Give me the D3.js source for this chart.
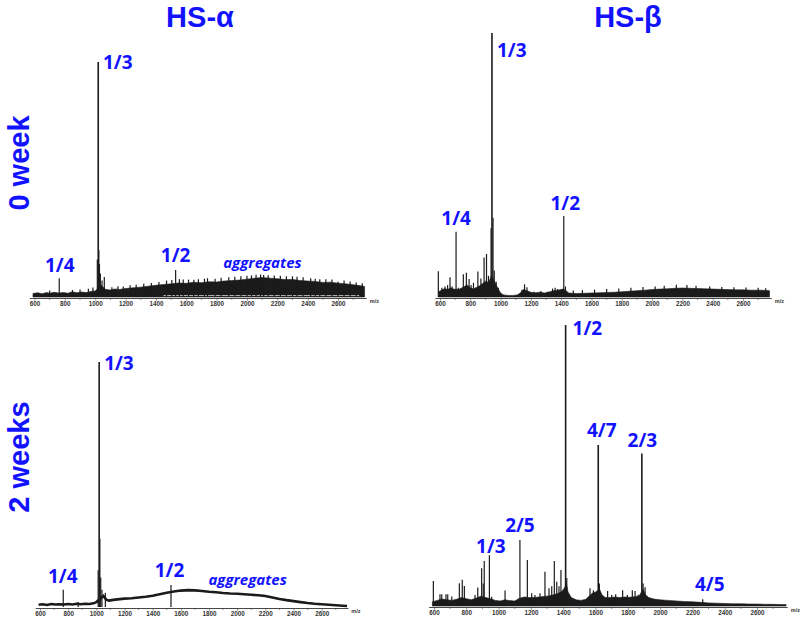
<!DOCTYPE html>
<html><head><meta charset="utf-8">
<script src="https://cdn.jsdelivr.net/npm/d3@7"></script>
<style>body{margin:0;background:#fff} svg{display:block}</style>
</head><body>
<svg id="c" width="800" height="619"></svg>
<script>
// ---------- DATA ----------
const columnTitles = ["HS-α", "HS-β"];
const rowTitles = ["0 week", "2 weeks"];
const tickValues = [600, 800, 1000, 1200, 1400, 1600, 1800, 2000, 2200, 2400, 2600];
const minorTicks = [700, 900, 1100, 1300, 1500, 1700, 1900, 2100, 2300, 2500, 2700];
const unitLabel = "m/z";

// HS-α, 0 week : [m/z, relative intensity %]
const alpha0Envelope = [[590,1.5],[620,1.8],[650,1.4],[680,1.9],[700,1.6],[730,2.0],[760,1.7],[790,1.9],[820,1.6],[850,2.2],[880,1.8],[910,2.1],[940,1.9],[970,2.3],[1000,2.6],[1040,5.0],[1070,3.2],[1100,3.0],[1130,3.4],[1160,3.2],[1200,3.6],[1250,3.9],[1300,4.2],[1350,4.6],[1400,5.0],[1450,5.3],[1500,5.6],[1550,6.0],[1600,5.8],[1650,6.3],[1700,6.1],[1750,6.5],[1800,6.4],[1850,6.8],[1900,7.0],[1950,7.2],[2000,7.6],[2050,8.0],[2100,8.3],[2150,8.0],[2200,7.8],[2250,7.4],[2300,7.5],[2350,7.0],[2400,6.8],[2450,6.6],[2500,6.2],[2550,6.3],[2600,5.9],[2650,5.6],[2700,5.2],[2750,4.8],[2775,4.5]];
const alpha0Peaks = [[700,2.8],[763,8],[850,3],[900,3.2],[955,3.5],[985,4],[1014,16],[1020,100],[1024,20],[1028,14],[1034,10],[1045,7],[1060,8.5],
  [1110,4.2],[1150,4.6],[1185,4.5],[1230,5.0],[1270,5.2],[1320,5.6],[1370,6.0],[1420,6.4],[1470,7.0],[1505,7.2],[1530,11.5],[1555,7.6],[1580,7.5],[1615,7.4],[1650,7.3],[1680,7.6],[1720,7.8],[1740,8.0],[1790,7.8],[1830,8.2],[1880,8.4],[1920,8.6],[1960,8.8],[2000,9.0],[2030,9.2],[2060,9.5],[2090,9.6],[2110,9.4],[2140,9.3],[2180,9.2],[2220,9.0],[2260,8.8],[2300,8.8],[2330,8.6],[2370,8.4],[2420,8.0],[2450,7.8],[2480,7.6],[2520,7.6],[2560,7.4],[2600,6.5],[2640,7.0],[2680,6.6],[2720,6.2],[2760,5.8]];
const alpha0Gap = [[1450,0.6],[2740,0.6]];

// HS-β, 0 week
const beta0Envelope = [[590,2.0],[610,2.6],[630,3.2],[650,2.8],[670,3.5],[690,3.0],[720,2.8],[740,3.3],[760,4.0],[780,4.5],[800,3.5],[820,3.0],[840,3.6],[860,4.2],[880,5.0],[900,6.0],[920,5.5],[940,8.0],[960,6.0],[980,3.5],[1000,1.5],[1020,0.8],[1050,0.6],[1080,0.6],[1110,0.8],[1130,1.5],[1150,2.8],[1170,2.5],[1200,1.8],[1230,1.6],[1260,1.8],[1290,1.5],[1320,1.9],[1350,2.4],[1380,2.6],[1410,3.0],[1430,2.5],[1450,1.5],[1500,1.3],[1550,1.4],[1600,1.5],[1650,1.6],[1700,1.7],[1750,1.8],[1800,2.0],[1850,2.2],[1900,2.4],[1950,2.6],[2000,2.8],[2050,3.0],[2100,3.1],[2150,3.3],[2200,3.4],[2250,3.3],[2300,3.2],[2350,3.1],[2400,3.0],[2450,2.9],[2500,2.8],[2550,2.7],[2600,2.7],[2650,2.6],[2700,2.6],[2750,2.5],[2775,2.4]];
const beta0Peaks = [[589,9.8],[612,3.5],[633,4],[650,4.5],[666,7.5],[680,4],[706,24.7],[720,3.5],[754,8.6],[774,9.2],[792,6.8],[805,4.5],[821,5.4],[835,3.5],[850,9.7],[870,7],[880,5],[891,15],[907,16.3],[920,8],[937,26],[943,100],[950,30],[958,10],[971,5.8],[985,3.5],[1141,2.7],[1158,4.8],[1174,3.7],[1222,2],[1266,2.3],[1310,2],[1343,3.2],[1360,3.5],[1377,3],[1417,30.7],[1428,4],
  [1480,2.5],[1540,2.6],[1620,2.8],[1700,3.0],[1780,3.2],[1860,3.5],[1940,3.8],[2020,4.0],[2080,4.3],[2160,4.6],[2230,4.5],[2290,4.3],[2380,4.0],[2460,3.8],[2540,3.7],[2620,3.6],[2700,3.5],[2750,3.3]];

// HS-α, 2 weeks
const alpha2Envelope = [[590,0.9],[620,1.1],[650,0.8],[680,1.2],[710,1.0],[740,1.1],[770,1.0],[800,1.2],[830,1.0],[860,1.3],[890,1.1],[920,1.3],[950,1.2],[980,1.5],[1000,2.0],[1050,4.5],[1070,3.0],[1090,2.6],[1120,2.9],[1150,3.1],[1200,3.4],[1250,3.6],[1300,3.9],[1350,4.2],[1400,4.6],[1450,5.2],[1500,5.8],[1550,6.3],[1600,6.7],[1650,6.9],[1700,6.8],[1750,6.5],[1800,6.2],[1850,6.0],[1900,5.7],[1950,5.5],[2000,5.4],[2050,5.2],[2100,5.0],[2150,4.8],[2200,4.5],[2250,3.9],[2300,3.3],[2350,2.8],[2400,2.4],[2450,2.0],[2500,1.6],[2550,1.3],[2600,1.1],[2650,0.9],[2700,0.7],[2750,0.5],[2780,0.4]];
const alpha2Peaks = [[765,7],[871,2],[1013,15],[1020,100],[1025,28],[1031,12],[1040,7],[1064,5.8],[1530,9]];

// HS-β, 2 weeks
const beta2Envelope = [[590,1.5],[620,2.0],[650,2.5],[680,2.2],[710,2.0],[740,2.4],[770,3.0],[800,2.6],[830,2.2],[860,2.8],[890,3.5],[920,3.0],[950,2.6],[980,2.0],[1010,1.8],[1040,2.2],[1070,1.9],[1100,1.8],[1130,2.8],[1160,3.2],[1190,3.0],[1220,3.0],[1250,3.2],[1280,3.4],[1310,3.6],[1340,4.0],[1370,4.5],[1400,5.5],[1420,8.0],[1430,5.0],[1450,3.0],[1480,2.2],[1510,2.0],[1540,2.4],[1560,3.5],[1580,4.5],[1600,5.0],[1625,6.0],[1640,4.0],[1660,3.0],[1690,3.0],[1720,3.2],[1750,3.0],[1780,3.2],[1810,3.1],[1840,3.3],[1870,3.6],[1895,6.0],[1910,4.0],[1930,3.0],[1960,2.5],[2000,2.2],[2050,2.0],[2100,1.8],[2150,1.6],[2200,1.5],[2250,1.3],[2300,1.1],[2350,1.0],[2400,0.9],[2450,0.8],[2500,0.8],[2550,0.7],[2600,0.7],[2650,0.6],[2700,0.6],[2750,0.5],[2780,0.5]];
const beta2Peaks = [[596,8.9],[637,4.2],[648,4.2],[674,4.2],[685,4.2],[710,3.4],[757,8.1],[775,9.3],[788,7.1],[854,3.9],[871,6.6],[895,13.4],[905,8],[911,16],[943,18.1],[957,3.3],[1040,5.5],[1077,2],[1132,23.5],[1178,16.4],[1205,4.5],[1225,3.9],[1256,4.5],[1287,12.2],[1312,6.3],[1329,7],[1345,16],[1360,8.6],[1374,7],[1386,12.8],[1400,6],[1415,100],[1422,10],[1566,6.3],[1587,5.6],[1600,4.5],[1617,57.3],[1624,8],[1675,5.3],[1700,3.9],[1725,4.2],[1768,5.6],[1797,3.9],[1828,5.6],[1845,5.3],[1865,4],[1887,54.3],[1895,8],[1907,6.7],[2264,2.4]];

// peak annotations: [text, m/z, intensity]
const alpha0Labels = [["1/3",1020,100],["1/4",763,8],["1/2",1530,11.5],["aggregates",2102,12.3]];
const beta0Labels = [["1/3",943,100],["1/4",706,24.7],["1/2",1417,30.7]];
const alpha2Labels = [["1/3",1020,100],["1/4",765,7],["1/2",1530,9],["aggregates",2074,9.0]];
const beta2Labels = [["1/2",1415,100],["4/7",1617,57.3],["2/3",1887,54.3],["2/5",1132,23.5],["1/3",943,18.1],["4/5",2264,2.4]];

// ---------- LAYOUT ----------
const svg = d3.select("#c");
const BLUE = "#1212ff";
const INK = "#1b1b1b";

// label offsets (px): [anchor, dx, dy]
const labelLayout = {
  alpha0: [["start",4.7,7],["middle",0.5,-6],["middle",0,-8],["middle",0,0]],
  beta0: [["start",5,23.5],["middle",0,-6.5],["middle",1.5,-5.5]],
  alpha2: [["start",5,8],["middle",-0.5,-7],["middle",-1.5,-8],["middle",0,0]],
  beta2: [["start",7,10],["middle",3.5,-8],["middle",0.5,-6],["middle",0,-8],["middle",1.5,-2],["middle",7,-8]]
};

const panels = [
  {id:"alpha0", env:alpha0Envelope, peaks:alpha0Peaks, labels:alpha0Labels, mode:"area", gap:alpha0Gap,
   xr:[34.5,338], yr:[297,62], axisY:298.5},
  {id:"beta0", env:beta0Envelope, peaks:beta0Peaks, labels:beta0Labels, mode:"area",
   xr:[440,743], yr:[297,33], axisY:298.5},
  {id:"alpha2", env:alpha2Envelope, peaks:alpha2Peaks, labels:alpha2Labels, mode:"line",
   xr:[40,321.7], yr:[607,362], axisY:608.5},
  {id:"beta2", env:beta2Envelope, peaks:beta2Peaks, labels:beta2Labels, mode:"area",
   xr:[434,757], yr:[606,325], axisY:607.5}
];

panels.forEach(p => {
  const x = d3.scaleLinear().domain([600, 2600]).range(p.xr);
  const y = d3.scaleLinear().domain([0, 100]).range(p.yr);
  const g = svg.append("g");

  g.append("line").attr("x1", x(570)).attr("x2", x(2790))
    .attr("y1", p.axisY).attr("y2", p.axisY)
    .attr("stroke", "#333").attr("stroke-width", 0.9);

  g.selectAll("line.minor").data(minorTicks).join("line").attr("class","minor")
    .attr("x1", d => x(d)).attr("x2", d => x(d))
    .attr("y1", p.axisY).attr("y2", p.axisY + 1.5)
    .attr("stroke", "#444").attr("stroke-width", 0.6);

  const ax = d3.axisBottom(x).tickValues(tickValues).tickSize(2.2).tickPadding(1).tickFormat(d3.format("d"));
  const axg = g.append("g").attr("transform", `translate(0,${p.axisY})`).call(ax);
  axg.select(".domain").remove();
  axg.selectAll(".tick line").attr("stroke", "#444").attr("stroke-width", 0.6);
  axg.selectAll(".tick text").attr("font-family", "Liberation Sans, Arial, sans-serif")
    .attr("font-weight", "bold").attr("font-size", 6.3).attr("fill", "#333");

  g.append("text").attr("x", x(2800) + 1.5).attr("y", p.axisY + 4)
    .attr("font-family", "Liberation Sans, Arial, sans-serif").attr("font-weight", "bold")
    .attr("font-size", 5.5).attr("fill", "#333").text(unitLabel);

  if (p.mode === "area") {
    const area = d3.area().x(d => x(d[0])).y0(y(0)).y1(d => y(d[1]));
    g.append("path").datum(p.env).attr("d", area).attr("fill", INK).attr("stroke", INK).attr("stroke-width", 0.6);
  } else {
    const line = d3.line().x(d => x(d[0])).y(d => y(d[1]));
    g.append("path").datum(p.env).attr("d", line).attr("fill", "none").attr("stroke", INK).attr("stroke-width", 2.6);
  }
  if (p.gap) {
    const gl = d3.line().x(d => x(d[0])).y(d => y(d[1]));
    g.append("path").datum(p.gap).attr("d", gl).attr("stroke", "#fff").attr("stroke-width", 0.7).attr("fill", "none");
  }

  g.selectAll("line.pk").data(p.peaks).join("line").attr("class","pk")
    .attr("x1", d => x(d[0])).attr("x2", d => x(d[0]))
    .attr("y1", y(0)).attr("y2", d => y(d[1]))
    .attr("stroke", INK).attr("stroke-width", d => d[1] > 40 ? 1.6 : 1.2);

  const lay = labelLayout[p.id];
  p.labels.forEach((l, i) => {
    const [anchor, dx, dy] = lay[i];
    const isAgg = l[0] === "aggregates";
    g.append("text")
      .attr("x", x(l[1]) + dx).attr("y", y(l[2]) + dy)
      .attr("text-anchor", anchor)
      .attr("font-family", "Open Sans, Noto Sans, sans-serif")
      .attr("font-weight", "bold")
      .attr("font-style", isAgg ? "italic" : "normal")
      .attr("font-size", isAgg ? 15 : 19)
      .attr("fill", BLUE)
      .text(l[0]);
  });
});

// column titles
const colX = [200, 628];
columnTitles.forEach((t, i) => {
  svg.append("text").attr("x", colX[i]).attr("y", 26.5).attr("text-anchor", "middle")
    .attr("font-family", "Liberation Sans, Arial, sans-serif").attr("font-weight", "bold")
    .attr("font-size", 29).attr("fill", BLUE).text(t);
});
// row titles
const rowY = [163, 457];
rowTitles.forEach((t, i) => {
  svg.append("text").attr("transform", `translate(28.5,${rowY[i]}) rotate(-90)`)
    .attr("text-anchor", "middle")
    .attr("font-family", "Liberation Sans, Arial, sans-serif").attr("font-weight", "bold")
    .attr("font-size", 29).attr("fill", BLUE).text(t);
});
</script>
</body></html>
